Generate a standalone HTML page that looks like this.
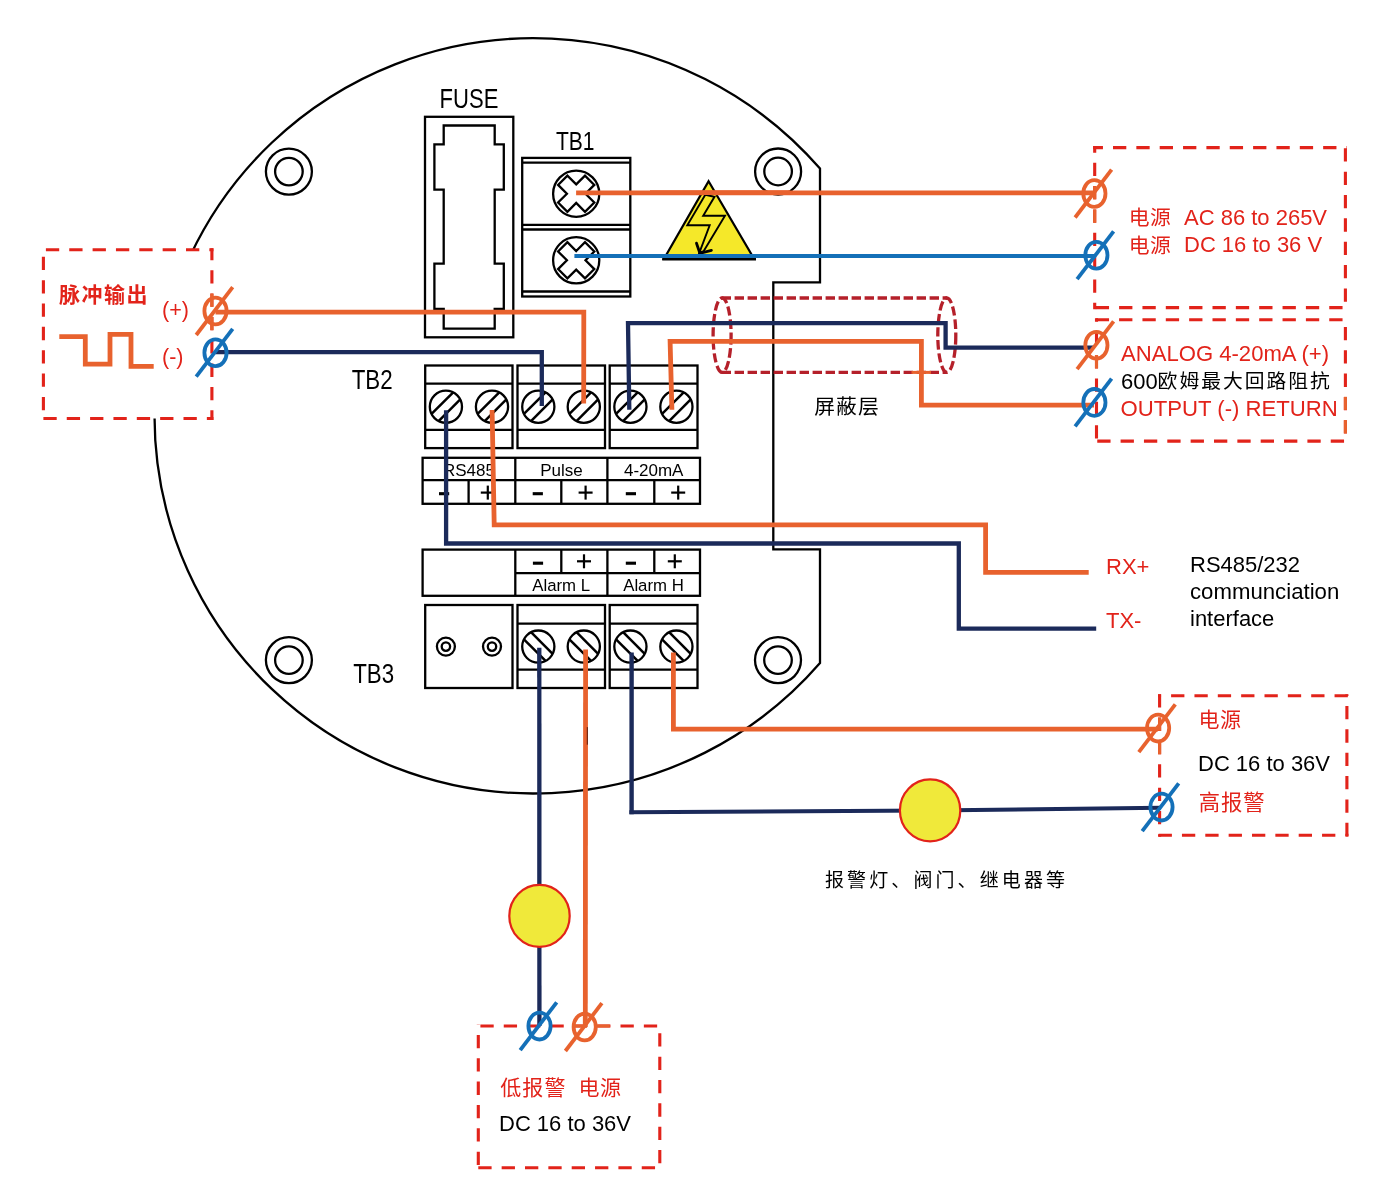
<!DOCTYPE html>
<html lang="zh">
<head>
<meta charset="utf-8">
<title>Wiring diagram</title>
<style>
html,body{margin:0;padding:0;background:#fff;}
body{width:1394px;height:1193px;overflow:hidden;}
svg{display:block;will-change:transform;}
svg text{font-family:"Liberation Sans","Noto Sans CJK SC",sans-serif;}
</style>
</head>
<body>
<svg width="1394" height="1193" viewBox="0 0 1394 1193">
<rect x="0" y="0" width="1394" height="1193" fill="#fff"/>
<path d="M820.0 168.62 A379.0 377.65 0 1 0 820.0 663.08 L820.0 549.4 L773.3 549.4 L773.3 282.3 L820.0 282.3 Z" fill="none" stroke="#000" stroke-width="2.3" stroke-linejoin="miter"/>
<circle cx="288.9" cy="171.6" r="23.0" fill="none" stroke="#000" stroke-width="2.3"/>
<circle cx="288.9" cy="171.6" r="13.8" fill="none" stroke="#000" stroke-width="2.3"/>
<circle cx="778.1" cy="171.5" r="23.0" fill="none" stroke="#000" stroke-width="2.3"/>
<circle cx="778.1" cy="171.5" r="13.8" fill="none" stroke="#000" stroke-width="2.3"/>
<circle cx="288.9" cy="660.1" r="23.0" fill="none" stroke="#000" stroke-width="2.3"/>
<circle cx="288.9" cy="660.1" r="13.8" fill="none" stroke="#000" stroke-width="2.3"/>
<circle cx="778.0" cy="660.1" r="23.0" fill="none" stroke="#000" stroke-width="2.3"/>
<circle cx="778.0" cy="660.1" r="13.8" fill="none" stroke="#000" stroke-width="2.3"/>
<rect x="425" y="116.8" width="88.3" height="220.5" fill="none" stroke="#000" stroke-width="2.3" />
<path d="M443.7 125.5 L494.7 125.5 L494.7 144.3 L503.8 144.3 L503.8 189.6 L494.7 189.6 L494.7 263.7 L503.8 263.7 L503.8 309 L494.7 309 L494.7 328.6 L443.7 328.6 L443.7 309 L434.4 309 L434.4 263.7 L443.7 263.7 L443.7 189.6 L434.4 189.6 L434.4 144.3 L443.7 144.3 Z" fill="none" stroke="#000" stroke-width="2.3" />
<text x="0" y="0" font-size="26.7" fill="#000" text-anchor="middle" font-weight="normal" transform="translate(469 107.9) scale(0.826 1)" >FUSE</text>
<text x="0" y="0" font-size="26.5" fill="#000" text-anchor="middle" font-weight="normal" transform="translate(575.2 149.5) scale(0.795 1)" >TB1</text>
<text x="0" y="0" font-size="26.8" fill="#000" text-anchor="middle" font-weight="normal" transform="translate(372.2 388.7) scale(0.833 1)" >TB2</text>
<text x="0" y="0" font-size="26.8" fill="#000" text-anchor="middle" font-weight="normal" transform="translate(373.6 683.4) scale(0.833 1)" >TB3</text>
<rect x="522.2" y="157.9" width="108.1" height="138.6" fill="none" stroke="#000" stroke-width="2.3" />
<line x1="522.2" y1="162.6" x2="630.3" y2="162.6" stroke="#000" stroke-width="2.3" />
<line x1="522.2" y1="224.8" x2="630.3" y2="224.8" stroke="#000" stroke-width="2.3" />
<line x1="522.2" y1="229.5" x2="630.3" y2="229.5" stroke="#000" stroke-width="2.3" />
<line x1="522.2" y1="291.5" x2="630.3" y2="291.5" stroke="#000" stroke-width="2.3" />
<circle cx="576.2" cy="193.7" r="23.1" fill="none" stroke="#000" stroke-width="2.3"/>
<path d="M576.2 184.4 L585.0 175.6 L594.3 184.9 L585.5 193.7 L594.3 202.5 L585.0 211.8 L576.2 203.0 L567.4 211.8 L558.1 202.5 L566.9 193.7 L558.1 184.9 L567.4 175.6 Z" fill="#fff" stroke="#000" stroke-width="2.3" />
<circle cx="576.2" cy="260.3" r="23.1" fill="none" stroke="#000" stroke-width="2.3"/>
<path d="M576.2 251.0 L585.0 242.2 L594.3 251.5 L585.5 260.3 L594.3 269.1 L585.0 278.4 L576.2 269.6 L567.4 278.4 L558.1 269.1 L566.9 260.3 L558.1 251.5 L567.4 242.2 Z" fill="#fff" stroke="#000" stroke-width="2.3" />
<path d="M708.6 181.2 L754.2 259.0 L663.9 259.0 Z" fill="#F5E829" stroke="#000" stroke-width="2.2" stroke-linejoin="miter"/>
<line x1="662.2" y1="259.2" x2="756" y2="259.2" stroke="#000" stroke-width="2.8" />
<rect x="425.2" y="365.5" width="87.3" height="82.6" fill="none" stroke="#000" stroke-width="2.3" />
<line x1="425.2" y1="383.7" x2="512.5" y2="383.7" stroke="#000" stroke-width="2.3" />
<line x1="425.2" y1="429.8" x2="512.5" y2="429.8" stroke="#000" stroke-width="2.3" />
<rect x="517.5" y="365.5" width="87.5" height="82.6" fill="none" stroke="#000" stroke-width="2.3" />
<line x1="517.5" y1="383.7" x2="605.0" y2="383.7" stroke="#000" stroke-width="2.3" />
<line x1="517.5" y1="429.8" x2="605.0" y2="429.8" stroke="#000" stroke-width="2.3" />
<rect x="609.7" y="365.5" width="87.8" height="82.6" fill="none" stroke="#000" stroke-width="2.3" />
<line x1="609.7" y1="383.7" x2="697.5" y2="383.7" stroke="#000" stroke-width="2.3" />
<line x1="609.7" y1="429.8" x2="697.5" y2="429.8" stroke="#000" stroke-width="2.3" />
<circle cx="445.9" cy="406.7" r="16.1" fill="none" stroke="#000" stroke-width="2.3"/>
<line x1="431.54" y1="413.99" x2="453.19" y2="392.34" stroke="#000" stroke-width="2.5" />
<line x1="438.61" y1="421.06" x2="460.26" y2="399.41" stroke="#000" stroke-width="2.5" />
<circle cx="492.0" cy="406.7" r="16.1" fill="none" stroke="#000" stroke-width="2.3"/>
<line x1="477.64" y1="413.99" x2="499.29" y2="392.34" stroke="#000" stroke-width="2.5" />
<line x1="484.71" y1="421.06" x2="506.36" y2="399.41" stroke="#000" stroke-width="2.5" />
<circle cx="538.3" cy="406.7" r="16.1" fill="none" stroke="#000" stroke-width="2.3"/>
<line x1="523.94" y1="413.99" x2="545.59" y2="392.34" stroke="#000" stroke-width="2.5" />
<line x1="531.01" y1="421.06" x2="552.66" y2="399.41" stroke="#000" stroke-width="2.5" />
<circle cx="583.8" cy="406.7" r="16.1" fill="none" stroke="#000" stroke-width="2.3"/>
<line x1="569.44" y1="413.99" x2="591.09" y2="392.34" stroke="#000" stroke-width="2.5" />
<line x1="576.51" y1="421.06" x2="598.16" y2="399.41" stroke="#000" stroke-width="2.5" />
<circle cx="630.4" cy="406.7" r="16.1" fill="none" stroke="#000" stroke-width="2.3"/>
<line x1="616.04" y1="413.99" x2="637.69" y2="392.34" stroke="#000" stroke-width="2.5" />
<line x1="623.11" y1="421.06" x2="644.76" y2="399.41" stroke="#000" stroke-width="2.5" />
<circle cx="676.4" cy="406.7" r="16.1" fill="none" stroke="#000" stroke-width="2.3"/>
<line x1="662.04" y1="413.99" x2="683.69" y2="392.34" stroke="#000" stroke-width="2.5" />
<line x1="669.11" y1="421.06" x2="690.76" y2="399.41" stroke="#000" stroke-width="2.5" />
<rect x="425.2" y="605.0" width="87.3" height="83.0" fill="none" stroke="#000" stroke-width="2.3" />
<rect x="517.5" y="605.0" width="87.5" height="83.0" fill="none" stroke="#000" stroke-width="2.3" />
<line x1="517.5" y1="623.6" x2="605.0" y2="623.6" stroke="#000" stroke-width="2.3" />
<line x1="517.5" y1="669.6" x2="605.0" y2="669.6" stroke="#000" stroke-width="2.3" />
<rect x="609.7" y="605.0" width="87.8" height="83.0" fill="none" stroke="#000" stroke-width="2.3" />
<line x1="609.7" y1="623.6" x2="697.5" y2="623.6" stroke="#000" stroke-width="2.3" />
<line x1="609.7" y1="669.6" x2="697.5" y2="669.6" stroke="#000" stroke-width="2.3" />
<circle cx="538.3" cy="646.6" r="16.1" fill="none" stroke="#000" stroke-width="2.3"/>
<line x1="523.94" y1="639.31" x2="545.59" y2="660.96" stroke="#000" stroke-width="2.5" />
<line x1="531.01" y1="632.24" x2="552.66" y2="653.89" stroke="#000" stroke-width="2.5" />
<circle cx="583.8" cy="646.6" r="16.1" fill="none" stroke="#000" stroke-width="2.3"/>
<line x1="569.44" y1="639.31" x2="591.09" y2="660.96" stroke="#000" stroke-width="2.5" />
<line x1="576.51" y1="632.24" x2="598.16" y2="653.89" stroke="#000" stroke-width="2.5" />
<circle cx="630.4" cy="646.6" r="16.1" fill="none" stroke="#000" stroke-width="2.3"/>
<line x1="616.04" y1="639.31" x2="637.69" y2="660.96" stroke="#000" stroke-width="2.5" />
<line x1="623.11" y1="632.24" x2="644.76" y2="653.89" stroke="#000" stroke-width="2.5" />
<circle cx="676.4" cy="646.6" r="16.1" fill="none" stroke="#000" stroke-width="2.3"/>
<line x1="662.04" y1="639.31" x2="683.69" y2="660.96" stroke="#000" stroke-width="2.5" />
<line x1="669.11" y1="632.24" x2="690.76" y2="653.89" stroke="#000" stroke-width="2.5" />
<circle cx="445.9" cy="646.6" r="9.0" fill="none" stroke="#000" stroke-width="2.3"/>
<circle cx="445.9" cy="646.6" r="4.2" fill="none" stroke="#000" stroke-width="2.3"/>
<circle cx="492.0" cy="646.6" r="9.0" fill="none" stroke="#000" stroke-width="2.3"/>
<circle cx="492.0" cy="646.6" r="4.2" fill="none" stroke="#000" stroke-width="2.3"/>
<rect x="422.6" y="457.8" width="277.4" height="46.0" fill="none" stroke="#000" stroke-width="2.3" />
<line x1="422.6" y1="480.2" x2="700" y2="480.2" stroke="#000" stroke-width="2.3" />
<line x1="515.3" y1="457.8" x2="515.3" y2="503.8" stroke="#000" stroke-width="2.3" />
<line x1="607.4" y1="457.8" x2="607.4" y2="503.8" stroke="#000" stroke-width="2.3" />
<line x1="468.6" y1="480.2" x2="468.6" y2="503.8" stroke="#000" stroke-width="2.3" />
<line x1="561.3" y1="480.2" x2="561.3" y2="503.8" stroke="#000" stroke-width="2.3" />
<line x1="654.3" y1="480.2" x2="654.3" y2="503.8" stroke="#000" stroke-width="2.3" />
<rect x="422.6" y="549.6" width="277.4" height="46.2" fill="none" stroke="#000" stroke-width="2.3" />
<line x1="515.3" y1="573.2" x2="700" y2="573.2" stroke="#000" stroke-width="2.3" />
<line x1="515.3" y1="549.6" x2="515.3" y2="595.8" stroke="#000" stroke-width="2.3" />
<line x1="607.4" y1="549.6" x2="607.4" y2="595.8" stroke="#000" stroke-width="2.3" />
<line x1="561.3" y1="549.6" x2="561.3" y2="573.2" stroke="#000" stroke-width="2.3" />
<line x1="654.3" y1="549.6" x2="654.3" y2="573.2" stroke="#000" stroke-width="2.3" />
<text x="469" y="475.8" font-size="17" fill="#000" text-anchor="middle" font-weight="normal" >RS485</text>
<text x="561.4" y="475.7" font-size="17" fill="#000" text-anchor="middle" font-weight="normal" >Pulse</text>
<text x="653.7" y="475.7" font-size="17" fill="#000" text-anchor="middle" font-weight="normal" >4-20mA</text>
<text x="561.2" y="590.6" font-size="16.8" fill="#000" text-anchor="middle" font-weight="normal" >Alarm L</text>
<text x="653.5" y="590.6" font-size="16.8" fill="#000" text-anchor="middle" font-weight="normal" >Alarm H</text>
<line x1="439.0" y1="493.7" x2="449.20000000000005" y2="493.7" stroke="#000" stroke-width="3.1" />
<line x1="480.8" y1="492.6" x2="494.8" y2="492.6" stroke="#000" stroke-width="2.2" />
<line x1="487.8" y1="485.6" x2="487.8" y2="499.6" stroke="#000" stroke-width="2.2" />
<line x1="532.6999999999999" y1="493.7" x2="542.9" y2="493.7" stroke="#000" stroke-width="3.1" />
<line x1="578.6" y1="492.6" x2="592.6" y2="492.6" stroke="#000" stroke-width="2.2" />
<line x1="585.6" y1="485.6" x2="585.6" y2="499.6" stroke="#000" stroke-width="2.2" />
<line x1="625.8" y1="493.7" x2="636.0" y2="493.7" stroke="#000" stroke-width="3.1" />
<line x1="671.2" y1="492.6" x2="685.2" y2="492.6" stroke="#000" stroke-width="2.2" />
<line x1="678.2" y1="485.6" x2="678.2" y2="499.6" stroke="#000" stroke-width="2.2" />
<line x1="532.9" y1="563.2" x2="543.1" y2="563.2" stroke="#000" stroke-width="3.1" />
<line x1="577.0" y1="561.3" x2="591.0" y2="561.3" stroke="#000" stroke-width="2.2" />
<line x1="584.0" y1="554.3" x2="584.0" y2="568.3" stroke="#000" stroke-width="2.2" />
<line x1="625.8" y1="563.2" x2="636.0" y2="563.2" stroke="#000" stroke-width="3.1" />
<line x1="667.8" y1="561.3" x2="681.8" y2="561.3" stroke="#000" stroke-width="2.2" />
<line x1="674.8" y1="554.3" x2="674.8" y2="568.3" stroke="#000" stroke-width="2.2" />
<line x1="721.6" y1="298" x2="947.2" y2="298" stroke="#B5202A" stroke-width="3.3" stroke-dasharray="9.4 3.6"/>
<line x1="721.6" y1="372.4" x2="947.2" y2="372.4" stroke="#B5202A" stroke-width="3.3" stroke-dasharray="9.4 3.6"/>
<ellipse cx="722.1" cy="335.2" rx="9.0" ry="37.2" fill="none" stroke="#B5202A" stroke-width="3.3" stroke-dasharray="9.4 3.6"/>
<ellipse cx="946.8" cy="335.2" rx="9.0" ry="37.2" fill="none" stroke="#B5202A" stroke-width="3.3" stroke-dasharray="9.4 3.6"/>
<text x="814.2" y="414.4" font-size="20.8" fill="#000" text-anchor="start" font-weight="normal" letter-spacing="1.1">屏蔽层</text>
<line x1="911.5" y1="372.4" x2="931" y2="372.4" stroke="#E8622E" stroke-width="3" />
<rect x="43.4" y="249.75" width="168.5" height="168.75" fill="#fff"/>
<line x1="41.85" y1="249.75" x2="213.45000000000002" y2="249.75" stroke="#E2231A" stroke-width="3.1" stroke-dasharray="13.3 10.05" stroke-dashoffset="19.3"/>
<line x1="211.9" y1="248.2" x2="211.9" y2="420.05" stroke="#E2231A" stroke-width="3.1" stroke-dasharray="13.3 10.05" stroke-dashoffset="1.35"/>
<line x1="41.85" y1="418.5" x2="213.45000000000002" y2="418.5" stroke="#E2231A" stroke-width="3.1" stroke-dasharray="13.3 10.05" stroke-dashoffset="21.8"/>
<line x1="43.4" y1="248.2" x2="43.4" y2="420.05" stroke="#E2231A" stroke-width="3.1" stroke-dasharray="13.3 10.05" stroke-dashoffset="14.75"/>
<line x1="1093.15" y1="147.6" x2="1346.95" y2="147.6" stroke="#E2231A" stroke-width="3.1" stroke-dasharray="13.3 10.05" stroke-dashoffset="3.5"/>
<line x1="1345.4" y1="146.04999999999998" x2="1345.4" y2="309.15000000000003" stroke="#E2231A" stroke-width="3.1" stroke-dasharray="13.3 10.05" stroke-dashoffset="21.1"/>
<line x1="1093.15" y1="307.6" x2="1346.95" y2="307.6" stroke="#E2231A" stroke-width="3.1" stroke-dasharray="13.3 10.05" stroke-dashoffset="20.75"/>
<line x1="1094.7" y1="146.04999999999998" x2="1094.7" y2="309.15000000000003" stroke="#E2231A" stroke-width="3.1" stroke-dasharray="13.3 10.05" stroke-dashoffset="6.7"/>
<line x1="1094.95" y1="319.8" x2="1346.95" y2="319.8" stroke="#E2231A" stroke-width="3.1" stroke-dasharray="13.3 10.05" stroke-dashoffset="22.55"/>
<line x1="1345.4" y1="318.25" x2="1345.4" y2="442.65000000000003" stroke="#E2231A" stroke-width="3.1" stroke-dasharray="13.3 10.05" stroke-dashoffset="14.7"/>
<line x1="1094.95" y1="441.1" x2="1346.95" y2="441.1" stroke="#E2231A" stroke-width="3.1" stroke-dasharray="13.3 10.05" stroke-dashoffset="21.05"/>
<line x1="1096.5" y1="318.25" x2="1096.5" y2="442.65000000000003" stroke="#E2231A" stroke-width="3.1" stroke-dasharray="13.3 10.05" stroke-dashoffset="9.8"/>
<line x1="1158.05" y1="695.8" x2="1348.45" y2="695.8" stroke="#E2231A" stroke-width="3.1" stroke-dasharray="13.3 10.05" stroke-dashoffset="10.3"/>
<line x1="1346.9" y1="694.25" x2="1346.9" y2="836.75" stroke="#E2231A" stroke-width="3.1" stroke-dasharray="13.3 10.05" stroke-dashoffset="11.6"/>
<line x1="1158.05" y1="835.2" x2="1348.45" y2="835.2" stroke="#E2231A" stroke-width="3.1" stroke-dasharray="13.3 10.05" stroke-dashoffset="22.8"/>
<line x1="1159.6" y1="694.25" x2="1159.6" y2="836.75" stroke="#E2231A" stroke-width="3.1" stroke-dasharray="13.3 10.05" stroke-dashoffset="0.0"/>
<line x1="476.75" y1="1026.0" x2="661.3499999999999" y2="1026.0" stroke="#E2231A" stroke-width="3.1" stroke-dasharray="13.3 10.05" stroke-dashoffset="19.7"/>
<line x1="659.8" y1="1024.45" x2="659.8" y2="1169.25" stroke="#E2231A" stroke-width="3.1" stroke-dasharray="13.3 10.05" stroke-dashoffset="14.5"/>
<line x1="476.75" y1="1167.7" x2="661.3499999999999" y2="1167.7" stroke="#E2231A" stroke-width="3.1" stroke-dasharray="13.3 10.05" stroke-dashoffset="21.8"/>
<line x1="478.3" y1="1024.45" x2="478.3" y2="1169.25" stroke="#E2231A" stroke-width="3.1" stroke-dasharray="13.3 10.05" stroke-dashoffset="12.9"/>
<path d="M576.1 192.9 L1094 192.9" fill="none" stroke="#E8622E" stroke-width="4.8" stroke-linejoin="miter" stroke-linecap="butt"/>
<path d="M574.4 256.0 L1096 256.0" fill="none" stroke="#1470B8" stroke-width="4.2" stroke-linejoin="miter" stroke-linecap="butt"/>
<path d="M215.5 312.2 L583.8 312.2 L583.7 403.6" fill="none" stroke="#E8622E" stroke-width="4.8" stroke-linejoin="miter" stroke-linecap="butt"/>
<path d="M215.5 352.1 L541.8 352.1 L541.8 406.0" fill="none" stroke="#1B2A5A" stroke-width="4.3" stroke-linejoin="miter" stroke-linecap="butt"/>
<path d="M629.3 409.8 L628.0 323.2 L945.6 323.2 L945.6 347.6 L1094 347.6" fill="none" stroke="#1B2A5A" stroke-width="4.3" stroke-linejoin="miter" stroke-linecap="butt"/>
<path d="M671.9 409.8 L670.1 341.3 L921.4 341.3 L921.4 405.2 L1094 405.2" fill="none" stroke="#E8622E" stroke-width="4.8" stroke-linejoin="miter" stroke-linecap="butt"/>
<path d="M492.1 410 L494.2 524.9 L985.6 524.9 L985.6 572.3 L1088.7 572.3" fill="none" stroke="#E8622E" stroke-width="4.8" stroke-linejoin="miter" stroke-linecap="butt"/>
<path d="M446.1 410.3 L446.1 543.5 L958.8 543.5 L958.8 628.6 L1096.2 628.6" fill="none" stroke="#1B2A5A" stroke-width="4.3" stroke-linejoin="miter" stroke-linecap="butt"/>
<path d="M539.3 647.8 L539.4 1026" fill="none" stroke="#1B2A5A" stroke-width="4.3" stroke-linejoin="miter" stroke-linecap="butt"/>
<path d="M585.6 649.4 L585.3 1027" fill="none" stroke="#E8622E" stroke-width="4.8" stroke-linejoin="miter" stroke-linecap="butt"/>
<path d="M631.6 652.4 L631.6 814.3" fill="none" stroke="#1B2A5A" stroke-width="4.4" stroke-linejoin="miter" stroke-linecap="butt"/>
<path d="M629.4 812.3 L930 810.6 L1161 807.8" fill="none" stroke="#1B2A5A" stroke-width="4.0" stroke-linejoin="miter" stroke-linecap="butt"/>
<path d="M673.4 652.4 L673.4 729.2 L1158 729.2" fill="none" stroke="#E8622E" stroke-width="4.8" stroke-linejoin="miter" stroke-linecap="butt"/>
<line x1="587.3" y1="727.1" x2="587.3" y2="744.7" stroke="#4a1208" stroke-width="0.9" />
<ellipse cx="539.5" cy="915.9" rx="30.2" ry="31.0" fill="#F0E93A" stroke="#E2231A" stroke-width="2.2" />
<ellipse cx="930.1" cy="810.4" rx="30.2" ry="31.0" fill="#F0E93A" stroke="#E2231A" stroke-width="2.2" />
<path d="M705.3 194.7 L687.3 225.3 L709.7 225.3 L699.3 252.8 L703.6 251.2 L725 215.7 L703.2 215.7 L714.5 196.8 Z" fill="#F5E829" stroke="#000" stroke-width="1.9" stroke-linejoin="miter"/>
<path d="M696.5 243.2 L699.9 253.3 L711.4 250.4" fill="none" stroke="#000" stroke-width="2.8" stroke-linejoin="miter" stroke-linecap="round"/>
<path d="M650 192.7 L790 192.7" fill="none" stroke="#E8622E" stroke-width="4.8" stroke-linejoin="miter" stroke-linecap="butt"/>
<path d="M650 256.0 L790 256.0" fill="none" stroke="#1470B8" stroke-width="4.2" stroke-linejoin="miter" stroke-linecap="butt"/>
<ellipse cx="215.5" cy="311" rx="11.1" ry="13.4" fill="none" stroke="#E8622E" stroke-width="3.8" />
<line x1="196.2" y1="335" x2="232.7" y2="287.2" stroke="#E8622E" stroke-width="3.8" />
<ellipse cx="215.5" cy="352.7" rx="11.1" ry="13.4" fill="none" stroke="#1470B8" stroke-width="3.8" />
<line x1="196.2" y1="376.7" x2="232.7" y2="328.9" stroke="#1470B8" stroke-width="3.8" />
<ellipse cx="1094.4" cy="193.5" rx="11.1" ry="13.4" fill="none" stroke="#E8622E" stroke-width="3.8" />
<line x1="1075.1000000000001" y1="217.5" x2="1111.6000000000001" y2="169.7" stroke="#E8622E" stroke-width="3.8" />
<ellipse cx="1096.4" cy="255.2" rx="11.1" ry="13.4" fill="none" stroke="#1470B8" stroke-width="3.8" />
<line x1="1077.1000000000001" y1="279.2" x2="1113.6000000000001" y2="231.39999999999998" stroke="#1470B8" stroke-width="3.8" />
<ellipse cx="1096.4" cy="345.2" rx="11.1" ry="13.4" fill="none" stroke="#E8622E" stroke-width="3.8" />
<line x1="1077.1000000000001" y1="369.2" x2="1113.6000000000001" y2="321.4" stroke="#E8622E" stroke-width="3.8" />
<ellipse cx="1094.4" cy="402.4" rx="11.1" ry="13.4" fill="none" stroke="#1470B8" stroke-width="3.8" />
<line x1="1075.1000000000001" y1="426.4" x2="1111.6000000000001" y2="378.59999999999997" stroke="#1470B8" stroke-width="3.8" />
<ellipse cx="1158.1" cy="728.1" rx="11.1" ry="13.4" fill="none" stroke="#E8622E" stroke-width="3.8" />
<line x1="1138.8" y1="752.1" x2="1175.3" y2="704.3000000000001" stroke="#E8622E" stroke-width="3.8" />
<ellipse cx="1161.5" cy="807.1" rx="11.1" ry="13.4" fill="none" stroke="#1470B8" stroke-width="3.8" />
<line x1="1142.2" y1="831.1" x2="1178.7" y2="783.3000000000001" stroke="#1470B8" stroke-width="3.8" />
<ellipse cx="539.5" cy="1026.1" rx="11.1" ry="13.4" fill="none" stroke="#1470B8" stroke-width="3.8" />
<line x1="520.2" y1="1050.1" x2="556.7" y2="1002.3" stroke="#1470B8" stroke-width="3.8" />
<ellipse cx="584.7" cy="1027" rx="11.1" ry="13.4" fill="none" stroke="#E8622E" stroke-width="3.8" />
<line x1="565.4000000000001" y1="1051" x2="601.9000000000001" y2="1003.2" stroke="#E8622E" stroke-width="3.8" />
<line x1="1094.7" y1="186.1" x2="1094.7" y2="199.4" stroke="#E8622E" stroke-width="3.1" />
<line x1="1094.7" y1="209.5" x2="1094.7" y2="222.8" stroke="#E8622E" stroke-width="3.1" />
<line x1="1096.5" y1="355.1" x2="1096.5" y2="368.4" stroke="#E8622E" stroke-width="3.1" />
<line x1="1345.4" y1="396.8" x2="1345.4" y2="409.9" stroke="#E8622E" stroke-width="3.1" />
<line x1="1345.4" y1="420.1" x2="1345.4" y2="433.4" stroke="#E8622E" stroke-width="3.1" />
<line x1="1159.6" y1="717.6" x2="1159.6" y2="730.9" stroke="#E8622E" stroke-width="3.1" />
<line x1="1159.6" y1="740.9" x2="1159.6" y2="754.3" stroke="#E8622E" stroke-width="3.1" />
<line x1="573.9" y1="1026.0" x2="587.0" y2="1026.0" stroke="#E8622E" stroke-width="3.1" />
<line x1="597.3" y1="1026.0" x2="609.8" y2="1026.0" stroke="#E8622E" stroke-width="3.1" />
<line x1="211.9" y1="293.6" x2="211.9" y2="306.9" stroke="#E8622E" stroke-width="3.1" />
<line x1="211.9" y1="316.9" x2="211.9" y2="330.2" stroke="#E8622E" stroke-width="3.1" />
<path d="M59.3 336.6 L85.3 336.6 L85.3 364.2 L110 364.2 L110 334.3 L131 334.3 L131 366.4 L153.7 366.4" fill="none" stroke="#E8622E" stroke-width="4.8" stroke-linejoin="miter" stroke-linecap="butt"/>
<text x="59" y="302.4" font-size="21" fill="#E2231A" text-anchor="start" font-weight="bold" letter-spacing="1.5">脉冲输出</text>
<text x="162.0" y="317.0" font-size="21.5" fill="#E2231A" text-anchor="start" font-weight="normal" >(+)</text>
<text x="162.0" y="363.6" font-size="21.5" fill="#E2231A" text-anchor="start" font-weight="normal" >(-)</text>
<text x="1128.7" y="225.4" font-size="20.8" fill="#E2231A" text-anchor="start" font-weight="normal" letter-spacing="0.6">电源</text>
<text x="0" y="0" font-size="22.8" fill="#E2231A" text-anchor="start" font-weight="normal" transform="translate(1184.0 224.6) scale(0.965 1)" >AC 86 to 265V</text>
<text x="1128.7" y="253.0" font-size="20.8" fill="#E2231A" text-anchor="start" font-weight="normal" letter-spacing="0.6">电源</text>
<text x="0" y="0" font-size="22.8" fill="#E2231A" text-anchor="start" font-weight="normal" transform="translate(1184.0 252.3) scale(0.965 1)" >DC 16 to 36 V</text>
<text x="0" y="0" font-size="22.8" fill="#E2231A" text-anchor="start" font-weight="normal" transform="translate(1121 360.9) scale(0.9698249999999998 1)" >ANALOG 4-20mA (+)</text>
<text x="0" y="0" font-size="22.8" fill="#000" text-anchor="start" font-weight="normal" transform="translate(1121 388.6) scale(0.965 1)" >600</text>
<text x="1157.6" y="387.9" font-size="19.8" fill="#000" text-anchor="start" font-weight="normal" letter-spacing="2.0">欧姆最大回路阻抗</text>
<text x="0" y="0" font-size="22.8" fill="#E2231A" text-anchor="start" font-weight="normal" transform="translate(1120.5 415.7) scale(0.9717549999999998 1)" >OUTPUT (-) RETURN</text>
<text x="0" y="0" font-size="22.8" fill="#E2231A" text-anchor="start" font-weight="normal" transform="translate(1106 573.5) scale(0.965 1)" >RX+</text>
<text x="0" y="0" font-size="22.8" fill="#E2231A" text-anchor="start" font-weight="normal" transform="translate(1106 627.7) scale(0.965 1)" >TX-</text>
<text x="0" y="0" font-size="22.8" fill="#000" text-anchor="start" font-weight="normal" transform="translate(1190 571.6) scale(0.965 1)" >RS485/232</text>
<text x="0" y="0" font-size="22.8" fill="#000" text-anchor="start" font-weight="normal" transform="translate(1190 598.8) scale(0.9736849999999999 1)" >communciation</text>
<text x="0" y="0" font-size="22.8" fill="#000" text-anchor="start" font-weight="normal" transform="translate(1190 626.4) scale(0.965 1)" >interface</text>
<text x="1198.6" y="727.2" font-size="21" fill="#E2231A" text-anchor="start" font-weight="normal" letter-spacing="0.5">电源</text>
<text x="0" y="0" font-size="22.8" fill="#000" text-anchor="start" font-weight="normal" transform="translate(1198 770.7) scale(0.965 1)" >DC 16 to 36V</text>
<text x="1198.8" y="809.6" font-size="21.3" fill="#E2231A" text-anchor="start" font-weight="normal" letter-spacing="0.9">高报警</text>
<text x="825" y="887" font-size="19" fill="#000" text-anchor="start" font-weight="normal" letter-spacing="3.1">报警灯、阀门、继电器等</text>
<text x="500.2" y="1095.0" font-size="21" fill="#E2231A" text-anchor="start" font-weight="normal" letter-spacing="1.1">低报警</text>
<text x="578.4" y="1095.0" font-size="21" fill="#E2231A" text-anchor="start" font-weight="normal" letter-spacing="0.5">电源</text>
<text x="0" y="0" font-size="22.8" fill="#000" text-anchor="start" font-weight="normal" transform="translate(499 1131.3) scale(0.965 1)" >DC 16 to 36V</text>
</svg>
</body>
</html>
